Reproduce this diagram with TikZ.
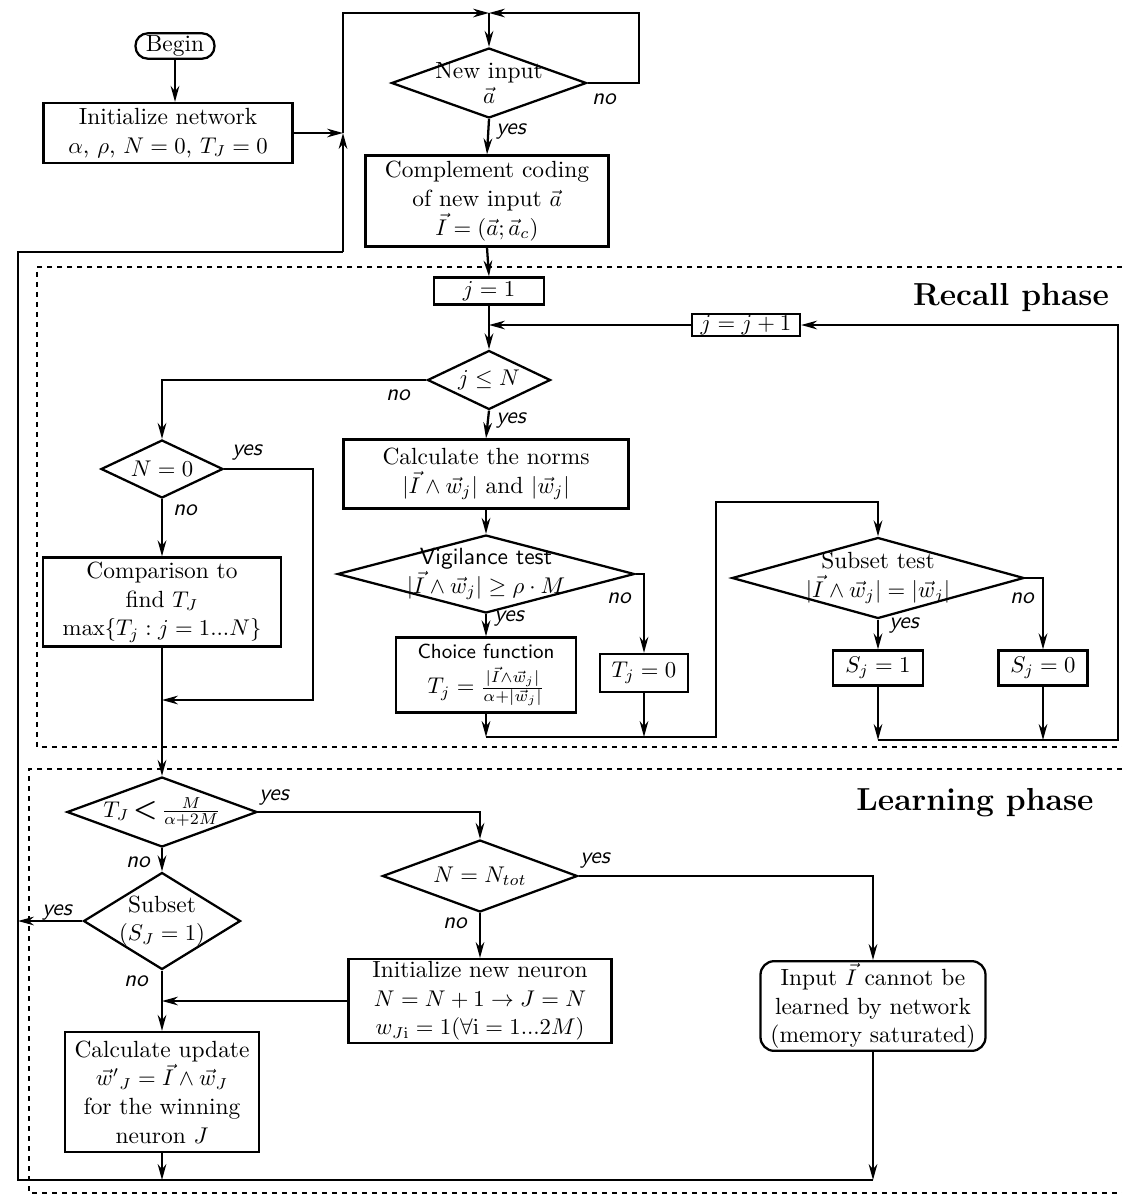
\documentclass[tikz,border=0pt]{standalone}
\usepackage{amsmath,amssymb}
\usetikzlibrary{shapes.geometric,arrows.meta}
\begin{document}
\begin{tikzpicture}[x=0.44pt,y=-0.44pt,
  font=\fontsize{10.3}{12.6}\selectfont,
  line width=1pt, >={Stealth[length=7pt,width=3.8pt]},
  box/.style 2 args={draw, rectangle, align=center, inner sep=1pt, minimum width=#1*0.44pt, minimum height=#2*0.44pt},
  dia/.style 2 args={draw, diamond, inner sep=0pt, minimum width=#1*0.44pt, minimum height=#2*0.44pt},
  lab/.style={font=\fontsize{10.3}{12}\selectfont\sffamily\slshape, inner sep=1pt},
  phase/.style={dash pattern=on 2.2pt off 2.2pt, line width=0.75pt},
  ttl/.style={font=\fontsize{14}{16}\selectfont\bfseries, inner sep=0pt},
]
\useasboundingbox (0,0) rectangle (1122,1196);

% phase frames
\draw[phase] (1122,267) -- (37,267) -- (37,747) -- (1122,747);
\draw[phase] (1122,769) -- (29,769) -- (29,1193) -- (1122,1193);
\node[ttl] (recall) at (1011,298) {Recall phase};
\node[ttl] (learn) at (975,803) {Learning phase};

% nodes
\node[box={79}{25}, rounded corners=5.4pt] (begin) at (175,46) {Begin};
\node[box={249}{60}] (init) at (168,133) {Initialize network\\ $\alpha$, $\rho$, $N=0$, $T_J=0$};
\node[dia={195}{70}, label={[align=center]center:New input\\[-2pt] $\vec a$}] (newin) at (489,83) {};
\node[box={243}{91}] (comp) at (487,201) {Complement coding\\ of new input $\vec a$\\ $\vec I=(\vec a;\vec a_c)$};
\node[box={110}{27}] (j1) at (489,291) {$j=1$};
\node[box={108}{22}, inner sep=0pt] (jj) at (746,325) {$j=j+1$};
\node[dia={123}{59}, label={center:$j\le N$}] (jN) at (489,380) {};
\node[dia={122}{58}, label={center:$N=0$}] (N0) at (162,469) {};
\node[box={238}{89}] (cmp) at (162,602) {Comparison to\\ find $T_J$\\ $\max\{T_j : j=1...N\}$};
\node[box={285}{69}] (norms) at (486,474) {Calculate the norms\\ $|\vec I\wedge\vec w_j|$ and $|\vec w_j|$};
\node[dia={297}{78}, label={[align=center]center:{\sffamily Vigilance test}\\ $|\vec I\wedge\vec w_j|\geq\rho\cdot M$}] (vig) at (486,574) {};
\node[box={180}{75}] (choice) at (486,675) {{\sffamily\small Choice function}\\[3pt] $T_j=\frac{|\vec I\wedge\vec w_j|}{\alpha+|\vec w_j|}$};
\node[box={88}{38}] (t0) at (644,673) {$T_j=0$};
\node[dia={292}{81}, label={[align=center]center:Subset test\\ $|\vec I\wedge\vec w_j|=|\vec w_j|$}] (sub) at (878,578) {};
\node[box={90}{35}] (s1) at (878,668) {$S_j=1$};
\node[box={89}{35}] (s0) at (1043,668) {$S_j=0$};
\node[dia={190}{70}, label={center:$T_J$\,{\large$\boldsymbol{<}$}\,$\frac{M}{\alpha+2M}$}] (tj) at (162,812) {};
\node[dia={157}{97}, label={[align=center]center:Subset\\ $(S_J=1)$}] (subL) at (162,921) {};
\node[dia={195}{72}, label={center:$N=N_{tot}$}] (nn) at (480,876) {};
\node[box={263}{78}] (initn) at (480,1001) {Initialize new neuron\\ $N=N+1\rightarrow J=N$\\ $w_{J\mathrm{i}}=1(\forall\mathrm{i}=1...2M)$};
\node[box={194}{120}] (upd) at (162,1092) {Calculate update\\ $\vec w'{}_J=\vec I\wedge\vec w_J$\\ for the winning\\ neuron $J$};
\node[box={225}{88}, rounded corners=6pt] (inp) at (873,1006) {Input $\vec I$ cannot be\\ learned by network\\ (memory saturated)};

% coordinates
\coordinate (junc) at (489,13);
\coordinate (fbtop) at (343,13);
\coordinate (fbbot) at (343,252);
\coordinate (lb) at (18,252);
\coordinate (lbb) at (18,1180);
\coordinate (nloop) at (639,13);
\coordinate (rr) at (1118,740);
\coordinate (cl) at (716,737);
\coordinate (cu) at (716,502);
\coordinate (n0r) at (313,700);

% top
\draw[->] (begin.south) -- (begin.south |- init.north);
\draw[->] (init.east) -- (init.east -| fbtop);
\draw[->] (fbbot) -- (fbbot |- init.east);
\draw[->] (fbbot |- init.east) -- (fbtop) -- (junc);
\draw[->] (newin.east) -| (nloop) -- (junc);
\draw[->] (junc) -- (newin.north);
\draw[->] (newin.south) -- (comp.north);
\draw[->] (comp.south) -- (j1.north);
\draw[->] (j1.south) -- (jN.north);
\draw[->] (jj.west) -- (jj.west -| j1.south);

% recall
\draw[->] (jN.west) -| (N0.north);
\draw[->] (jN.south) -- (norms.north);
\draw[->] (N0.south) -- (cmp.north);
\draw[->] (N0.east) -| (n0r) -- (n0r -| cmp.south);
\draw[->] (cmp.south) -- (tj.north);
\draw[->] (norms.south) -- (vig.north);
\draw[->] (vig.south) -- (choice.north);
\draw[->] (vig.east) -| (t0.north);
\draw[->] (choice.south) -- (choice.south |- cl);
\draw[->] (t0.south) -- (t0.south |- cl);
\draw[->] (choice.south |- cl) -- (cl) -- (cu) -| (sub.north);
\draw[->] (sub.south) -- (s1.north);
\draw[->] (sub.east) -| (s0.north);
\draw[->] (s1.south) -- (s1.south |- rr);
\draw[->] (s0.south) -- (s0.south |- rr);
\draw[->] (s1.south |- rr) -- (rr) -- (rr |- jj.east) -- (jj.east);

% learning
\draw[->] (tj.east) -| (nn.north);
\draw[->] (tj.south) -- (subL.north);
\draw[->] (subL.west) -- (subL.west -| lb);
\draw[->] (subL.south) -- (upd.north);
\draw[->] (nn.south) -- (initn.north);
\draw[->] (initn.west) -- (initn.west -| upd.north);
\draw[->] (nn.east) -| (inp.north);
\draw[->] (upd.south) -- (upd.south |- lbb);
\draw[->] (inp.south) -- (inp.south |- lbb);
\draw (inp.south |- lbb) -- (lbb) -- (lb) -- (fbbot);

% labels
\node[lab] (l1) at (604,99) {no};
\node[lab] (l2) at (511,131) {yes};
\node[lab] (l3) at (398,395) {no};
\node[lab] (l4) at (511,420) {yes};
\node[lab] (l5) at (247,452) {yes};
\node[lab] (l6) at (185,510) {no};
\node[lab] (l7) at (619,598) {no};
\node[lab] (l8) at (509,618) {yes};
\node[lab] (l9) at (904,625) {yes};
\node[lab] (l10) at (1022,598) {no};
\node[lab] (l11) at (274,797) {yes};
\node[lab] (l12) at (138,862) {no};
\node[lab] (l13) at (57,912) {yes};
\node[lab] (l14) at (136,981) {no};
\node[lab] (l15) at (455,923) {no};
\node[lab] (l16) at (595,860) {yes};
\end{tikzpicture}
\end{document}
